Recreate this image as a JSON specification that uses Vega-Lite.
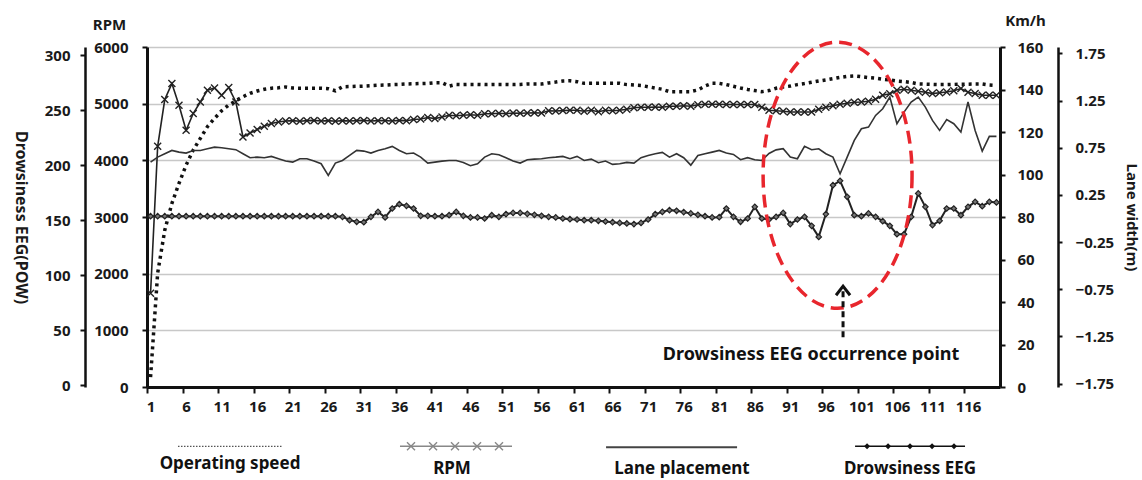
{
  "$schema": "https://vega.github.io/schema/vega-lite/v6.json",
  "width": 853,
  "height": 340,
  "autosize": {"type": "none"},
  "padding": {"left": 147, "top": 47, "right": 142, "bottom": 93},
  "background": "white",
  "config": {
    "font": "Noto Sans",
    "view": {"stroke": null},
    "axis": {
      "labelFont": "Noto Sans", "labelFontWeight": "bold", "labelFontSize": 15, "labelColor": "#1a1a1a",
      "titleFont": "Noto Sans", "titleFontWeight": "bold", "titleFontSize": 16, "titleColor": "#1a1a1a",
      "domainColor": "#111", "domainWidth": 2.5, "tickColor": "#111", "tickWidth": 2, "tickSize": 5,
      "grid": false, "labelOverlap": false, "labelFlush": false
    }
  },
  "datasets": {
    "series": [
      {"t":1,"speed":4.6,"rpm":1654,"lane":0.597,"eeg":153.6},
      {"t":2,"speed":53.6,"rpm":4248,"lane":0.650,"eeg":153.6},
      {"t":3,"speed":73.8,"rpm":5073,"lane":0.686,"eeg":153.6},
      {"t":4,"speed":86.4,"rpm":5355,"lane":0.721,"eeg":153.6},
      {"t":5,"speed":95.8,"rpm":4972,"lane":0.703,"eeg":153.6},
      {"t":6,"speed":104.4,"rpm":4531,"lane":0.693,"eeg":153.6},
      {"t":7,"speed":111.5,"rpm":4826,"lane":0.721,"eeg":153.6},
      {"t":8,"speed":117.0,"rpm":5030,"lane":0.721,"eeg":153.6},
      {"t":9,"speed":122.5,"rpm":5237,"lane":0.739,"eeg":153.6},
      {"t":10,"speed":126.4,"rpm":5277,"lane":0.756,"eeg":153.6},
      {"t":11,"speed":130.0,"rpm":5149,"lane":0.750,"eeg":153.6},
      {"t":12,"speed":132.7,"rpm":5284,"lane":0.739,"eeg":153.6},
      {"t":13,"speed":134.7,"rpm":5030,"lane":0.729,"eeg":153.6},
      {"t":14,"speed":136.6,"rpm":4413,"lane":0.686,"eeg":153.6},
      {"t":15,"speed":138.2,"rpm":4483,"lane":0.644,"eeg":153.6},
      {"t":16,"speed":139.3,"rpm":4543,"lane":0.650,"eeg":153.6},
      {"t":17,"speed":140.1,"rpm":4601,"lane":0.644,"eeg":153.6},
      {"t":18,"speed":140.6,"rpm":4649,"lane":0.658,"eeg":153.6},
      {"t":19,"speed":140.8,"rpm":4677,"lane":0.633,"eeg":153.6},
      {"t":20,"speed":141.2,"rpm":4695,"lane":0.608,"eeg":153.6},
      {"t":21,"speed":140.7,"rpm":4700,"lane":0.597,"eeg":153.6},
      {"t":22,"speed":140.6,"rpm":4690,"lane":0.633,"eeg":153.6},
      {"t":23,"speed":140.6,"rpm":4700,"lane":0.633,"eeg":153.6},
      {"t":24,"speed":140.6,"rpm":4705,"lane":0.608,"eeg":153.6},
      {"t":25,"speed":140.6,"rpm":4695,"lane":0.580,"eeg":153.6},
      {"t":26,"speed":140.4,"rpm":4700,"lane":0.456,"eeg":153.6},
      {"t":27,"speed":139.4,"rpm":4690,"lane":0.587,"eeg":153.6},
      {"t":28,"speed":141.3,"rpm":4700,"lane":0.615,"eeg":153.0},
      {"t":29,"speed":141.4,"rpm":4695,"lane":0.668,"eeg":150.0},
      {"t":30,"speed":141.5,"rpm":4700,"lane":0.721,"eeg":148.5},
      {"t":31,"speed":141.6,"rpm":4705,"lane":0.714,"eeg":148.2},
      {"t":32,"speed":141.8,"rpm":4695,"lane":0.693,"eeg":153.0},
      {"t":33,"speed":142.0,"rpm":4700,"lane":0.721,"eeg":157.5},
      {"t":34,"speed":142.1,"rpm":4700,"lane":0.739,"eeg":152.5},
      {"t":35,"speed":142.3,"rpm":4695,"lane":0.764,"eeg":160.6},
      {"t":36,"speed":142.4,"rpm":4705,"lane":0.721,"eeg":164.5},
      {"t":37,"speed":142.6,"rpm":4700,"lane":0.686,"eeg":163.0},
      {"t":38,"speed":142.7,"rpm":4720,"lane":0.693,"eeg":160.6},
      {"t":39,"speed":142.8,"rpm":4730,"lane":0.650,"eeg":153.9},
      {"t":40,"speed":142.9,"rpm":4755,"lane":0.587,"eeg":153.9},
      {"t":41,"speed":143.2,"rpm":4737,"lane":0.597,"eeg":153.6},
      {"t":42,"speed":143.2,"rpm":4766,"lane":0.608,"eeg":153.6},
      {"t":43,"speed":141.6,"rpm":4796,"lane":0.615,"eeg":154.5},
      {"t":44,"speed":142.4,"rpm":4787,"lane":0.615,"eeg":157.5},
      {"t":45,"speed":142.3,"rpm":4796,"lane":0.594,"eeg":153.9},
      {"t":46,"speed":142.4,"rpm":4804,"lane":0.559,"eeg":152.5},
      {"t":47,"speed":142.4,"rpm":4796,"lane":0.580,"eeg":152.5},
      {"t":48,"speed":142.3,"rpm":4822,"lane":0.650,"eeg":151.5},
      {"t":49,"speed":142.4,"rpm":4822,"lane":0.686,"eeg":154.5},
      {"t":50,"speed":142.4,"rpm":4831,"lane":0.676,"eeg":153.0},
      {"t":51,"speed":142.4,"rpm":4822,"lane":0.644,"eeg":155.5},
      {"t":52,"speed":142.3,"rpm":4836,"lane":0.608,"eeg":156.6},
      {"t":53,"speed":142.4,"rpm":4831,"lane":0.587,"eeg":156.6},
      {"t":54,"speed":142.6,"rpm":4836,"lane":0.623,"eeg":155.7},
      {"t":55,"speed":142.6,"rpm":4840,"lane":0.629,"eeg":154.8},
      {"t":56,"speed":142.6,"rpm":4836,"lane":0.633,"eeg":153.9},
      {"t":57,"speed":143.1,"rpm":4875,"lane":0.644,"eeg":153.0},
      {"t":58,"speed":143.5,"rpm":4871,"lane":0.650,"eeg":152.5},
      {"t":59,"speed":144.0,"rpm":4878,"lane":0.658,"eeg":151.5},
      {"t":60,"speed":144.1,"rpm":4884,"lane":0.633,"eeg":150.9},
      {"t":61,"speed":143.7,"rpm":4884,"lane":0.658,"eeg":150.6},
      {"t":62,"speed":142.9,"rpm":4866,"lane":0.615,"eeg":150.0},
      {"t":63,"speed":142.9,"rpm":4884,"lane":0.629,"eeg":150.0},
      {"t":64,"speed":142.9,"rpm":4857,"lane":0.591,"eeg":149.4},
      {"t":65,"speed":142.9,"rpm":4884,"lane":0.608,"eeg":148.8},
      {"t":66,"speed":142.9,"rpm":4875,"lane":0.573,"eeg":148.2},
      {"t":67,"speed":142.9,"rpm":4884,"lane":0.580,"eeg":147.5},
      {"t":68,"speed":142.3,"rpm":4901,"lane":0.594,"eeg":147.0},
      {"t":69,"speed":142.1,"rpm":4928,"lane":0.587,"eeg":146.4},
      {"t":70,"speed":141.9,"rpm":4937,"lane":0.644,"eeg":147.5},
      {"t":71,"speed":141.3,"rpm":4937,"lane":0.668,"eeg":150.6},
      {"t":72,"speed":140.7,"rpm":4942,"lane":0.686,"eeg":155.5},
      {"t":73,"speed":140.1,"rpm":4937,"lane":0.700,"eeg":157.5},
      {"t":74,"speed":139.0,"rpm":4954,"lane":0.650,"eeg":159.1},
      {"t":75,"speed":139.0,"rpm":4954,"lane":0.686,"eeg":158.5},
      {"t":76,"speed":139.0,"rpm":4963,"lane":0.644,"eeg":157.3},
      {"t":77,"speed":139.0,"rpm":4954,"lane":0.565,"eeg":156.1},
      {"t":78,"speed":139.8,"rpm":4981,"lane":0.668,"eeg":154.8},
      {"t":79,"speed":141.6,"rpm":4990,"lane":0.686,"eeg":153.6},
      {"t":80,"speed":142.9,"rpm":4990,"lane":0.703,"eeg":152.5},
      {"t":81,"speed":142.9,"rpm":4990,"lane":0.721,"eeg":152.7},
      {"t":82,"speed":142.3,"rpm":4984,"lane":0.693,"eeg":160.6},
      {"t":83,"speed":141.5,"rpm":4984,"lane":0.679,"eeg":153.0},
      {"t":84,"speed":140.7,"rpm":4984,"lane":0.623,"eeg":148.5},
      {"t":85,"speed":140.0,"rpm":4984,"lane":0.644,"eeg":151.5},
      {"t":86,"speed":139.5,"rpm":4984,"lane":0.623,"eeg":162.1},
      {"t":87,"speed":139.0,"rpm":4937,"lane":0.615,"eeg":151.5},
      {"t":88,"speed":139.5,"rpm":4884,"lane":0.689,"eeg":150.6},
      {"t":89,"speed":140.6,"rpm":4875,"lane":0.727,"eeg":153.0},
      {"t":90,"speed":141.2,"rpm":4866,"lane":0.739,"eeg":156.6},
      {"t":91,"speed":141.6,"rpm":4854,"lane":0.650,"eeg":146.4},
      {"t":92,"speed":142.3,"rpm":4854,"lane":0.633,"eeg":150.6},
      {"t":93,"speed":142.8,"rpm":4854,"lane":0.764,"eeg":153.0},
      {"t":94,"speed":143.4,"rpm":4854,"lane":0.729,"eeg":144.8},
      {"t":95,"speed":144.0,"rpm":4901,"lane":0.739,"eeg":134.8},
      {"t":96,"speed":144.5,"rpm":4937,"lane":0.686,"eeg":155.5},
      {"t":97,"speed":145.1,"rpm":4963,"lane":0.650,"eeg":181.8},
      {"t":98,"speed":145.7,"rpm":4990,"lane":0.474,"eeg":185.7},
      {"t":99,"speed":146.2,"rpm":5007,"lane":0.650,"eeg":171.2},
      {"t":100,"speed":146.4,"rpm":5025,"lane":0.827,"eeg":154.5},
      {"t":101,"speed":146.0,"rpm":5030,"lane":0.951,"eeg":153.6},
      {"t":102,"speed":145.6,"rpm":5043,"lane":0.968,"eeg":156.1},
      {"t":103,"speed":145.3,"rpm":5078,"lane":1.092,"eeg":153.0},
      {"t":104,"speed":144.8,"rpm":5149,"lane":1.163,"eeg":149.1},
      {"t":105,"speed":144.5,"rpm":5175,"lane":1.287,"eeg":144.8},
      {"t":106,"speed":144.0,"rpm":5237,"lane":1.004,"eeg":137.3},
      {"t":107,"speed":143.7,"rpm":5254,"lane":1.127,"eeg":137.3},
      {"t":108,"speed":143.3,"rpm":5237,"lane":1.234,"eeg":153.0},
      {"t":109,"speed":142.6,"rpm":5219,"lane":1.287,"eeg":174.3},
      {"t":110,"speed":142.5,"rpm":5201,"lane":1.180,"eeg":162.1},
      {"t":111,"speed":142.4,"rpm":5178,"lane":1.039,"eeg":145.5},
      {"t":112,"speed":142.3,"rpm":5193,"lane":0.933,"eeg":149.4},
      {"t":113,"speed":142.3,"rpm":5207,"lane":1.047,"eeg":160.6},
      {"t":114,"speed":142.4,"rpm":5228,"lane":1.004,"eeg":160.6},
      {"t":115,"speed":142.5,"rpm":5267,"lane":0.915,"eeg":154.5},
      {"t":116,"speed":142.5,"rpm":5201,"lane":1.234,"eeg":162.1},
      {"t":117,"speed":142.6,"rpm":5178,"lane":0.933,"eeg":166.6},
      {"t":118,"speed":142.6,"rpm":5149,"lane":0.714,"eeg":162.7},
      {"t":119,"speed":142.1,"rpm":5149,"lane":0.870,"eeg":166.6},
      {"t":120,"speed":141.9,"rpm":5149,"lane":0.870,"eeg":166.1}
    ]
  },
  "encoding": {
    "x": {"field": "t", "type": "quantitative", "scale": {"domain": [0.5, 120.5], "nice": false, "zero": false},
      "axis": {"orient": "bottom", "values": [1,6,11,16,21,26,31,36,41,46,51,56,61,66,71,76,81,86,91,96,101,106,111,116],
        "tickOffset": -3.554, "labelOffset": 3.554, "tickSize": 6, "labelPadding": 6, "domainWidth": 3, "title": null}}
  },
  "layer": [
    {
      "data": {"name": "series"},
      "mark": {"type": "line", "strokeWidth": 1.6, "color": "#222"},
      "encoding": {
        "y": {"field": "rpm", "type": "quantitative", "scale": {"domain": [0, 6000], "nice": false, "zero": false},
          "axis": {"orient": "left", "offset": 0, "values": [0,1000,2000,3000,4000,5000,6000], "format": "d",
            "grid": true, "gridColor": "#c8c8c8", "gridWidth": 1.5, "tickSize": 5, "labelPadding": 14, "domainWidth": 3,
            "title": "RPM", "titleAngle": 0, "titleX": -38, "titleY": -23, "titleAlign": "center", "titleBaseline": "middle", "titleFontSize": 15}}
      }
    },
    {
      "data": {"name": "series"},
      "mark": {"type": "line", "strokeDash": [3, 4], "strokeWidth": 3.5, "color": "#111", "strokeCap": "butt"},
      "encoding": {
        "y": {"field": "speed", "type": "quantitative", "scale": {"domain": [0, 160], "nice": false, "zero": false},
          "axis": {"orient": "right", "offset": 0, "values": [0,20,40,60,80,100,120,140,160], "format": "d",
            "tickSize": 5, "labelPadding": 12, "domainWidth": 3,
            "title": "Km/h", "titleAngle": 0, "titleX": 25, "titleY": -27, "titleAlign": "center", "titleBaseline": "middle", "titleFontSize": 15}}
      }
    },
    {
      "data": {"name": "series"},
      "mark": {"type": "line", "strokeWidth": 1.6, "color": "#333"},
      "encoding": {
        "y": {"field": "lane", "type": "quantitative", "scale": {"domain": [-1.786, 1.817], "nice": false, "zero": false},
          "axis": {"orient": "right", "offset": 58, "values": [-1.75,-1.25,-0.75,-0.25,0.25,0.75,1.25,1.75], "format": ".2f",
            "tickSize": 4, "labelPadding": 13, "domainWidth": 2.5,
            "title": "Lane width(m)", "titleAngle": 90, "titleX": 73, "titleY": 170, "titleAlign": "center", "titleBaseline": "middle", "titleFontSize": 15}}
      }
    },
    {
      "data": {"name": "series"},
      "mark": {"type": "line", "strokeWidth": 2, "color": "#222"},
      "encoding": {
        "y": {"field": "eeg", "type": "quantitative", "scale": {"domain": [-1.55, 307.27], "nice": false, "zero": false},
          "axis": {"orient": "left", "offset": 62, "values": [0,50,100,150,200,250,300], "format": "d",
            "tickSize": 5, "labelPadding": 10, "domainWidth": 2.5,
            "title": "Drowsiness EEG(POW)", "titleAngle": 90, "titleX": -65, "titleY": 170, "titleAlign": "center", "titleBaseline": "middle", "titleFontSize": 16}}
      }
    },
    {
      "data": {"name": "series"},
      "mark": {"type": "point", "shape": "diamond", "size": 30, "filled": true, "color": "#777", "stroke": "#222", "strokeWidth": 1.2, "opacity": 1},
      "encoding": {
        "y": {"field": "eeg", "type": "quantitative", "scale": {"domain": [-1.55, 307.27], "nice": false, "zero": false}, "axis": null}
      }
    },
    {
      "data": {"name": "series"},
      "mark": {"type": "point", "shape": "M-1,-1L1,1M-1,1L1,-1", "size": 49, "filled": false, "color": "#222", "strokeWidth": 1.4, "opacity": 1},
      "encoding": {
        "y": {"field": "rpm", "type": "quantitative", "scale": {"domain": [0, 6000], "nice": false, "zero": false}, "axis": null}
      }
    },
    {
      "data": {"values": [{"t": 97.65, "y": 3737}]},
      "mark": {"type": "point", "shape": "M0.56,0C0.56,0.5523,0.3093,1,0,1C-0.3093,1,-0.56,0.5523,-0.56,0C-0.56,-0.5523,-0.3093,-1,0,-1C0.3093,-1,0.56,-0.5523,0.56,0Z",
        "size": 70756, "filled": false, "color": "#e8262d", "strokeWidth": 3.5, "strokeDash": [13, 7], "opacity": 1},
      "encoding": {
        "y": {"field": "y", "type": "quantitative", "scale": {"domain": [0, 6000], "nice": false, "zero": false}, "axis": null}
      }
    },
    {
      "data": {"values": [{"t": 98.42, "y1": 877, "y2": 1776}]},
      "mark": {"type": "rule", "strokeDash": [6, 4], "strokeWidth": 3, "color": "#111"},
      "encoding": {
        "y": {"field": "y1", "type": "quantitative", "scale": {"domain": [0, 6000], "nice": false, "zero": false}, "axis": null},
        "y2": {"field": "y2"}
      }
    },
    {
      "data": {"values": [{"t": 98.42, "y": 1742}]},
      "mark": {"type": "point", "shape": "M-1,1L0,-0.3L1,1", "size": 196, "filled": false, "color": "#111", "strokeWidth": 3, "opacity": 1},
      "encoding": {
        "y": {"field": "y", "type": "quantitative", "scale": {"domain": [0, 6000], "nice": false, "zero": false}, "axis": null}
      }
    },
    {
      "data": {"values": [{"t": 93.92, "y": 560, "label": "Drowsiness EEG occurrence point"}]},
      "mark": {"type": "text", "font": "Noto Sans", "fontWeight": "bold", "fontSize": 18, "color": "#111", "align": "center", "baseline": "middle"},
      "encoding": {
        "y": {"field": "y", "type": "quantitative", "scale": {"domain": [0, 6000], "nice": false, "zero": false}, "axis": null},
        "text": {"field": "label"}
      }
    },
    {
      "data": {"values": [{"t": 4.86, "y": -1047}, {"t": 19.49, "y": -1047}]},
      "mark": {"type": "line", "strokeDash": [1.5, 1.5], "strokeWidth": 1.3, "color": "#555"},
      "encoding": {
        "y": {"field": "y", "type": "quantitative", "scale": {"domain": [0, 6000], "nice": false, "zero": false}, "axis": null}
      }
    },
    {
      "data": {"values": [{"t": 36.09, "y": -1047}, {"t": 51.85, "y": -1047}]},
      "mark": {"type": "line", "strokeWidth": 1.5, "color": "#888"},
      "encoding": {
        "y": {"field": "y", "type": "quantitative", "scale": {"domain": [0, 6000], "nice": false, "zero": false}, "axis": null}
      }
    },
    {
      "data": {"values": [{"t": 37.64, "y": -1047}, {"t": 40.74, "y": -1047}, {"t": 43.83, "y": -1047}, {"t": 46.93, "y": -1047}, {"t": 50.02, "y": -1047}]},
      "mark": {"type": "point", "shape": "M-1,-1L1,1M-1,1L1,-1", "size": 64, "filled": false, "color": "#888", "strokeWidth": 1.4, "opacity": 1},
      "encoding": {
        "y": {"field": "y", "type": "quantitative", "scale": {"domain": [0, 6000], "nice": false, "zero": false}, "axis": null}
      }
    },
    {
      "data": {"values": [{"t": 65.08, "y": -1064}, {"t": 83.51, "y": -1064}]},
      "mark": {"type": "line", "strokeWidth": 2, "color": "#444"},
      "encoding": {
        "y": {"field": "y", "type": "quantitative", "scale": {"domain": [0, 6000], "nice": false, "zero": false}, "axis": null}
      }
    },
    {
      "data": {"values": [{"t": 100.11, "y": -1047}, {"t": 115.58, "y": -1047}]},
      "mark": {"type": "line", "strokeWidth": 1.5, "color": "#111"},
      "encoding": {
        "y": {"field": "y", "type": "quantitative", "scale": {"domain": [0, 6000], "nice": false, "zero": false}, "axis": null}
      }
    },
    {
      "data": {"values": [{"t": 101.8, "y": -1047}, {"t": 104.75, "y": -1047}, {"t": 107.84, "y": -1047}, {"t": 110.94, "y": -1047}, {"t": 114.03, "y": -1047}]},
      "mark": {"type": "point", "shape": "diamond", "size": 36, "filled": true, "color": "#111", "opacity": 1},
      "encoding": {
        "y": {"field": "y", "type": "quantitative", "scale": {"domain": [0, 6000], "nice": false, "zero": false}, "axis": null}
      }
    },
    {
      "data": {"values": [
        {"t": 12.18, "y": -1365, "label": "Operating speed"},
        {"t": 43.41, "y": -1453, "label": "RPM"},
        {"t": 75.77, "y": -1453, "label": "Lane placement"},
        {"t": 107.84, "y": -1453, "label": "Drowsiness EEG"}
      ]},
      "mark": {"type": "text", "font": "Noto Sans", "fontWeight": "bold", "fontSize": 17, "color": "#111", "align": "center", "baseline": "middle"},
      "encoding": {
        "y": {"field": "y", "type": "quantitative", "scale": {"domain": [0, 6000], "nice": false, "zero": false}, "axis": null},
        "text": {"field": "label"}
      }
    }
  ],
  "resolve": {"scale": {"y": "independent"}, "axis": {"y": "independent"}}
}
